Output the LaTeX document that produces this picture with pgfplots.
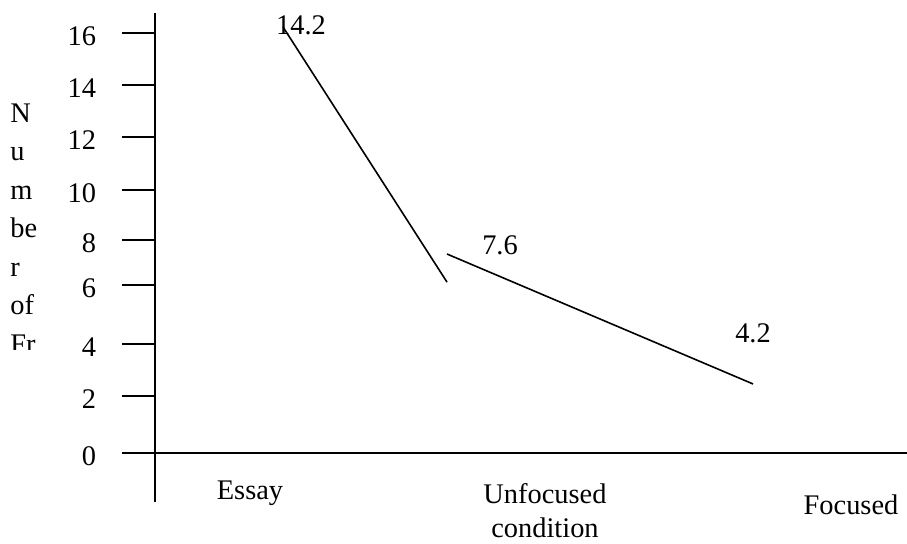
\documentclass[border=0pt]{standalone}
\usepackage{pgfplots}
\pgfplotsset{compat=1.18}
\usepackage{fontspec}
\setmainfont{Liberation Serif}
\begin{document}
\fontsize{14.2pt}{17pt}\selectfont
\begin{tikzpicture}
\useasboundingbox (0,0) rectangle (453.5pt,271.5pt);
\begin{axis}[
  at={(61pt,20.5pt)}, anchor=south west,
  scale only axis,
  x=0.5pt, y=13.125pt,
  xmin=-33, xmax=752, ymin=-1.867, ymax=16.76,
  enlargelimits=false,
  axis lines=middle,
  axis line style={-, line width=1pt},
  xtick=\empty,
  ytick={0,2.17,4.15,6.40,8.11,10.02,12.04,14.02,16},
  yticklabels={0,2,4,6,8,10,12,14,16},
  hide obscured y ticks=false,
  tick align=outside,
  major tick length=16.5pt,
  tick style={line width=1pt, black},
  yticklabel style={font=\fontsize{14.2pt}{17pt}\selectfont, anchor=east, xshift=-8pt, yshift=-1.5pt},
  /pgf/number format/assume math mode=true,
  clip=false,
]
\addplot[black, line width=0.8pt] coordinates {(128,16.23) (292,6.51)};
\addplot[black, line width=0.8pt] coordinates {(292,7.58) (598,2.63)};
\node at (axis cs:146,16.30) {14.2};
\node at (axis cs:345,7.92) {7.6};
\node at (axis cs:598,4.57) {4.2};
\node at (axis cs:95,-1.55) {Essay};
\node[align=center] at (axis cs:390,-2.2) {Unfocused\\condition};
\node at (axis cs:696,-1.98) {Focused};
\end{axis}
\begin{scope}
\clip (0,{0.5*(543-349)*1pt}) rectangle (40pt,271.5pt);
\node[anchor=base west, inner sep=0pt] at (5pt,{0.5*(543-122)*1pt}) {N};
\node[anchor=base west, inner sep=0pt] at (5pt,{0.5*(543-160.5)*1pt}) {u};
\node[anchor=base west, inner sep=0pt] at (5pt,{0.5*(543-199)*1pt}) {m};
\node[anchor=base west, inner sep=0pt] at (5pt,{0.5*(543-237.5)*1pt}) {be};
\node[anchor=base west, inner sep=0pt] at (5pt,{0.5*(543-276)*1pt}) {r};
\node[anchor=base west, inner sep=0pt] at (5pt,{0.5*(543-314.5)*1pt}) {of};
\node[anchor=base west, inner sep=0pt] at (5pt,{0.5*(543-353)*1pt}) {Fr};
\end{scope}
\end{tikzpicture}
\end{document}
